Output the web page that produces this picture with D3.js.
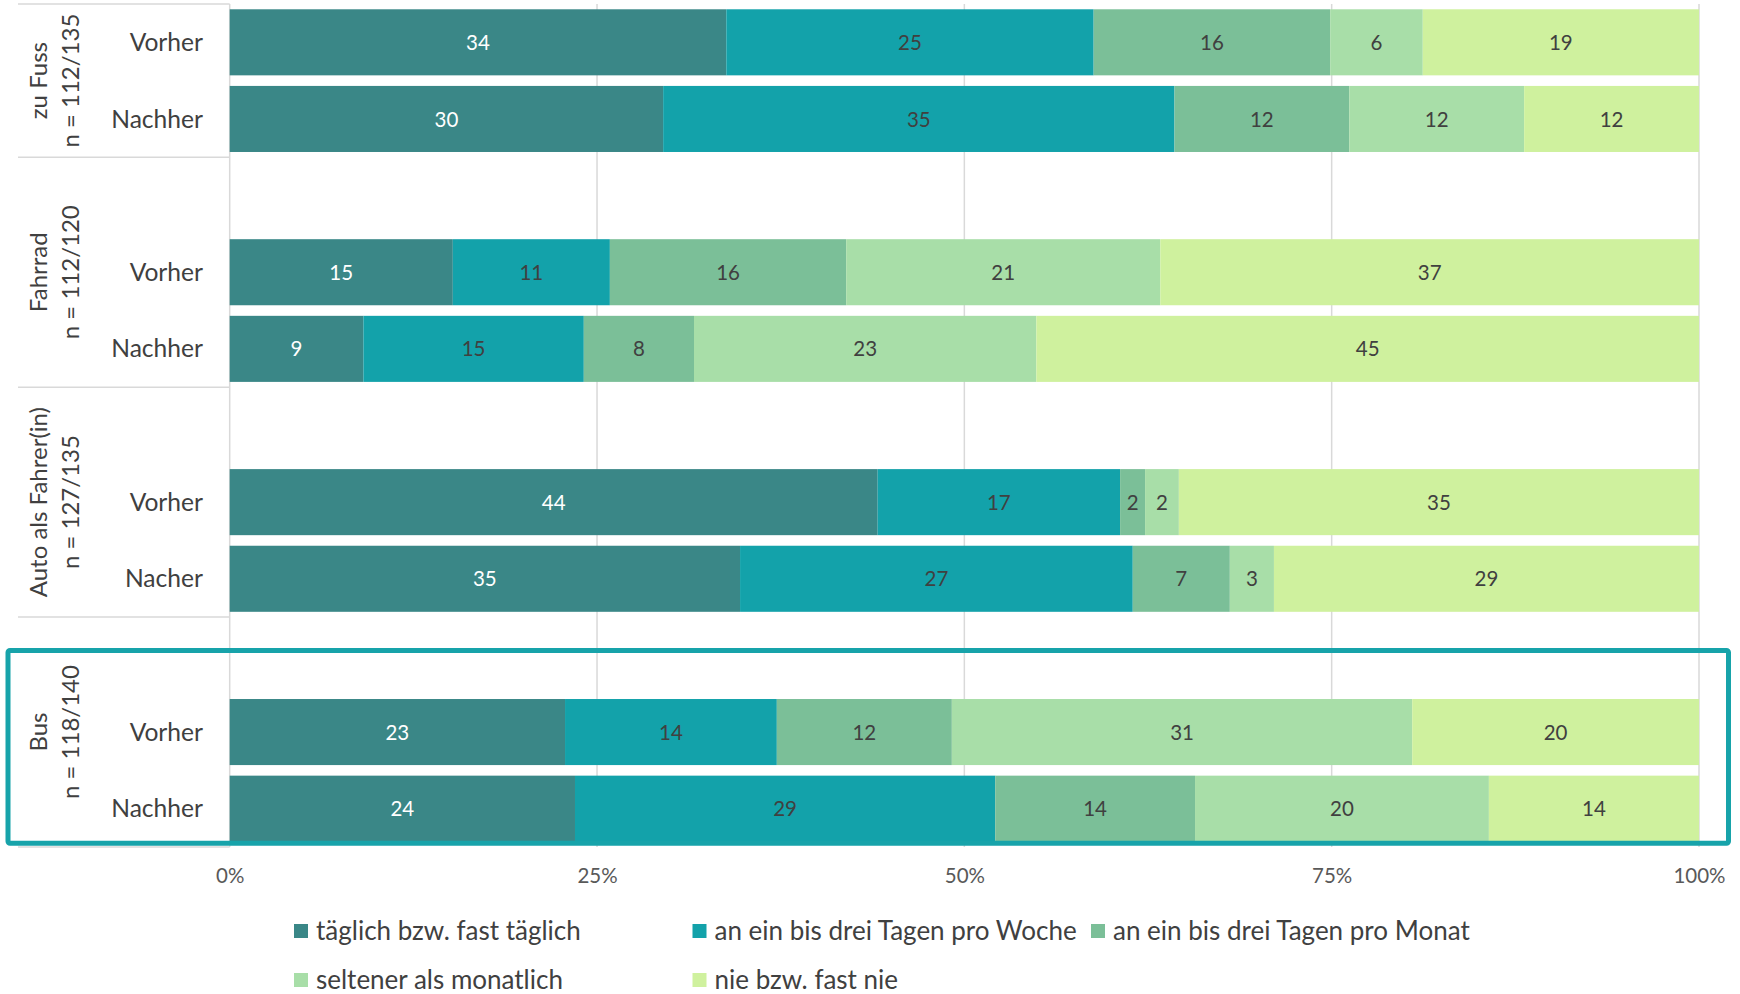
<!DOCTYPE html>
<html>
<head>
<meta charset="utf-8">
<script src="https://cdn.jsdelivr.net/npm/d3@7"></script>
<style>
  body { margin: 0; background: #fff; }
  #chart { width: 1740px; height: 994px; }
  text { font-family: Lato, "Open Sans", sans-serif; }
</style>
</head>
<body>
<div id="chart"></div>
<script>
// categories (outer level) + sample sizes, inner level per group
var groups = ["zu Fuss", "Fahrrad", "Auto als Fahrer(in)", "Bus"];
var sampleSizes = ["n = 112/135", "n = 112/120", "n = 127/135", "n = 118/140"];
var periods = [["Vorher", "Nachher"], ["Vorher", "Nachher"], ["Vorher", "Nacher"], ["Vorher", "Nachher"]];

var series = ["täglich bzw. fast täglich", "an ein bis drei Tagen pro Woche",
              "an ein bis drei Tagen pro Monat", "seltener als monatlich", "nie bzw. fast nie"];

// percent per row: zu Fuss V/N, Fahrrad V/N, Auto V/N, Bus V/N
var taeglich = [33.8, 29.5, 15.2,  9.1, 44.1, 34.7, 22.8, 23.5];
var woche    = [25.0, 34.8, 10.7, 15.0, 16.5, 26.7, 14.4, 28.6];
var monat    = [16.1, 11.9, 16.1,  7.5,  1.7,  6.6, 11.9, 13.6];
var selten   = [ 6.3, 11.9, 21.4, 23.3,  2.3,  3.0, 31.3, 20.0];
var nie      = [18.8, 11.9, 36.7, 45.1, 35.4, 28.9, 19.5, 14.3];

var tickValues = [0, 0.25, 0.5, 0.75, 1];
var tickLabels = ["0%", "25%", "50%", "75%", "100%"];

var colors = ["#3a8787", "#13a2aa", "#7bbf98", "#a8dea8", "#cff19e"];
var seriesValues = [taeglich, woche, monat, selten, nie];

var chart = document.getElementById("chart"),
    width = 1740,
    height = 994,
    plotLeft = 229.7,
    plotRight = 1699,
    plotTop = 4,
    plotBottom = 847,
    rows = [], slots = [], groupSlots = [];

groups.forEach(function(g, gi) {
  var s = [];
  if (gi > 0) { slots.push(g + "|gap"); s.push(g + "|gap"); }
  periods[gi].forEach(function(p) {
    var i = rows.length,
        row = {key: g + "|" + p, group: g, period: p};
    series.forEach(function(name, si) { row[name] = seriesValues[si][i]; });
    rows.push(row);
    slots.push(row.key);
    s.push(row.key);
  });
  groupSlots.push(s);
});

var stacked = d3.stack().keys(series).offset(d3.stackOffsetExpand)(rows);

var x = d3.scaleLinear().domain([0, 1]).range([plotLeft, plotRight]);
var y = d3.scaleBand().domain(slots).range([plotTop, plotBottom])
  .paddingInner(0.138).paddingOuter(0.069);

var half = y.step() * y.paddingInner() / 2;
function slotTop(k) { return y(k) - half; }
function slotBottom(k) { return y(k) + y.bandwidth() + half; }

var svg = d3.select(chart).append("svg")
  .attr("width", width)
  .attr("height", height);

// gridlines
svg.append("g").selectAll("line")
  .data(tickValues)
  .enter().append("line")
  .attr("x1", function(d) { return x(d); })
  .attr("x2", function(d) { return x(d); })
  .attr("y1", plotTop)
  .attr("y2", plotBottom)
  .attr("stroke", "#d9d9d9")
  .attr("stroke-width", 1.5);

// group separators on the category axis
var bounds = groupSlots.map(function(s) { return slotTop(s[0]); });
bounds.push(slotBottom(slots[slots.length - 1]));
svg.append("g").selectAll("line")
  .data(bounds)
  .enter().append("line")
  .attr("x1", 18)
  .attr("x2", plotLeft)
  .attr("y1", function(d) { return d; })
  .attr("y2", function(d) { return d; })
  .attr("stroke", "#d9d9d9")
  .attr("stroke-width", 1.5);

// bars
var layer = svg.append("g").selectAll("g")
  .data(stacked)
  .enter().append("g")
  .attr("fill", function(d, i) { return colors[i]; });

layer.selectAll("rect")
  .data(function(d) { return d; })
  .enter().append("rect")
  .attr("x", function(d) { return x(d[0]); })
  .attr("y", function(d) { return y(d.data.key); })
  .attr("width", function(d) { return x(d[1]) - x(d[0]); })
  .attr("height", y.bandwidth());

layer.selectAll("text")
  .data(function(d) { return d.map(function(e) { e.series = d.key; e.idx = d.index; return e; }); })
  .enter().append("text")
  .attr("x", function(d) { return (x(d[0]) + x(d[1])) / 2; })
  .attr("y", function(d) { return y(d.data.key) + y.bandwidth() / 2; })
  .attr("dy", "0.37em")
  .attr("text-anchor", "middle")
  .attr("font-size", 20.5)
  .attr("fill", function(d) { return d.idx == 0 ? "#ffffff" : "#404040"; })
  .text(function(d) { return Math.round(d.data[d.series]); });

// inner category labels
svg.append("g").selectAll("text")
  .data(rows)
  .enter().append("text")
  .attr("x", 203)
  .attr("y", function(d) { return y(d.key) + y.bandwidth() / 2; })
  .attr("dy", "0.35em")
  .attr("text-anchor", "end")
  .attr("font-size", 24.6)
  .attr("fill", "#404040")
  .text(function(d) { return d.period; });

// outer category labels (rotated)
var glabel = svg.append("g").selectAll("text")
  .data(groups)
  .enter().append("text")
  .attr("transform", function(d, i) {
    var s = groupSlots[i],
        c = (slotTop(s[0]) + slotBottom(s[s.length - 1])) / 2;
    return "translate(46.5," + c + ") rotate(-90)";
  })
  .attr("text-anchor", "middle")
  .attr("font-size", 24)
  .attr("fill", "#404040");
glabel.append("tspan").attr("x", 0).attr("y", 0).text(function(d) { return d; });
glabel.append("tspan").attr("x", 0).attr("y", 32).text(function(d, i) { return sampleSizes[i]; });

// x axis labels
var xAxis = svg.append("g")
  .attr("transform", "translate(0," + plotBottom + ")")
  .call(d3.axisBottom(x).tickValues(tickValues).tickSize(0)
    .tickFormat(function(d, i) { return tickLabels[i]; }));
xAxis.select(".domain").remove();
xAxis.selectAll("text")
  .attr("y", 29)
  .attr("dy", "0.35em")
  .attr("font-family", "Lato, sans-serif")
  .attr("font-size", 20.5)
  .attr("fill", "#595959");

// highlight box around Bus
var busTop = y("Bus|Vorher") - 48.5,
    busBottom = y("Bus|Nachher") + y.bandwidth() + 1.5;
svg.append("rect")
  .attr("x", 8)
  .attr("y", busTop)
  .attr("width", 1720.5)
  .attr("height", busBottom - busTop)
  .attr("rx", 2)
  .attr("fill", "none")
  .attr("stroke", "#17a3aa")
  .attr("stroke-width", 5);

// legend
var legend = svg.append("g").selectAll("g")
  .data(series)
  .enter().append("g")
  .attr("transform", function(d, i) {
    return "translate(" + (294 + (i % 3) * 398.5) + "," + (931 + Math.floor(i / 3) * 49) + ")";
  });
legend.append("rect")
  .attr("y", -7)
  .attr("width", 14)
  .attr("height", 14)
  .attr("fill", function(d, i) { return colors[i]; });
legend.append("text")
  .attr("x", 22)
  .attr("dy", "0.35em")
  .attr("font-size", 26)
  .attr("fill", "#404040")
  .text(function(d) { return d; });
</script>
</body>
</html>
